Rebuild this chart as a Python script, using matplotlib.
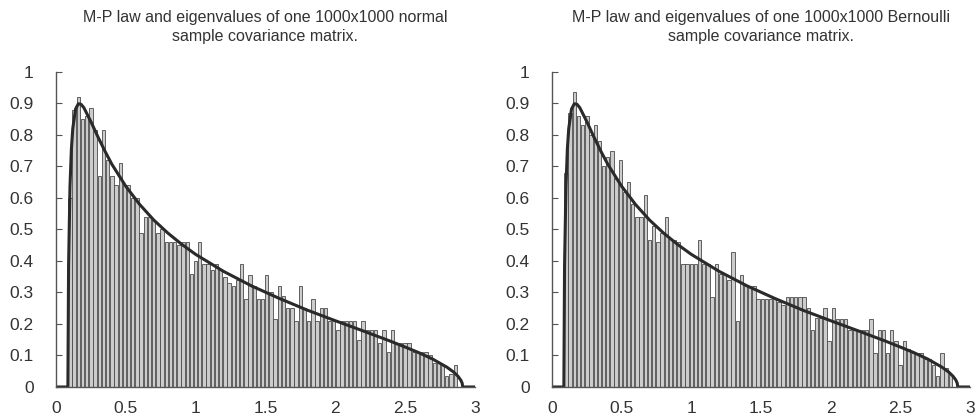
import numpy as np
import matplotlib.pyplot as plt

# histogram bins (left edges), same for both panels
bin_start = 0.085
bin_width = 0.03
n_bins = 94

normal_heights = [0.60, 0.88, 0.92, 0.85, 0.86, 0.885, 0.815, 0.67, 0.815, 0.72,
                  0.67, 0.64, 0.71, 0.64, 0.64, 0.60, 0.60, 0.49, 0.54, 0.54,
                  0.53, 0.49, 0.50, 0.46, 0.46, 0.46, 0.45, 0.46, 0.46, 0.36,
                  0.40, 0.46, 0.39, 0.39, 0.37, 0.39, 0.37, 0.35, 0.33, 0.32,
                  0.34, 0.39, 0.28, 0.355, 0.32, 0.28, 0.28, 0.355, 0.30, 0.215,
                  0.32, 0.29, 0.25, 0.25, 0.21, 0.32, 0.25, 0.21, 0.28, 0.21,
                  0.25, 0.25, 0.21, 0.21, 0.18, 0.21, 0.21, 0.21, 0.21, 0.15,
                  0.21, 0.18, 0.18, 0.18, 0.14, 0.18, 0.11, 0.18, 0.14, 0.14,
                  0.14, 0.14, 0.11, 0.11, 0.11, 0.11, 0.10, 0.075, 0.075, 0.07,
                  0.035, 0.04, 0.07, 0.0]

bernoulli_heights = [0.68, 0.87, 0.935, 0.86, 0.83, 0.86, 0.80, 0.83, 0.78, 0.70,
                     0.73, 0.75, 0.66, 0.72, 0.62, 0.65, 0.58, 0.54, 0.54, 0.61,
                     0.465, 0.51, 0.46, 0.49, 0.54, 0.47, 0.465, 0.46, 0.39, 0.39,
                     0.39, 0.39, 0.465, 0.39, 0.39, 0.285, 0.39, 0.36, 0.36, 0.34,
                     0.43, 0.21, 0.355, 0.32, 0.32, 0.32, 0.28, 0.28, 0.28, 0.28,
                     0.28, 0.27, 0.26, 0.285, 0.285, 0.285, 0.285, 0.285, 0.25, 0.18,
                     0.22, 0.22, 0.25, 0.145, 0.25, 0.215, 0.215, 0.215, 0.18, 0.18,
                     0.18, 0.18, 0.18, 0.215, 0.107, 0.18, 0.18, 0.107, 0.18, 0.145,
                     0.07, 0.145, 0.12, 0.107, 0.107, 0.107, 0.09, 0.09, 0.07, 0.035,
                     0.107, 0.06, 0.04, 0.0]

# M-P law curve
mp_x = [0, 0.085, 0.09, 0.10, 0.11, 0.12, 0.14, 0.16, 0.18, 0.20, 0.25, 0.30, 0.35,
        0.40, 0.50, 0.60, 0.70, 0.80, 0.90, 1.00, 1.20, 1.40, 1.60, 1.80, 2.00,
        2.20, 2.40, 2.50, 2.60, 2.70, 2.80, 2.85, 2.88, 2.90, 2.91, 2.914, 3.0]
mp_y = [0, 0, 0.385, 0.636, 0.754, 0.820, 0.882, 0.899, 0.897, 0.886, 0.842, 0.794,
        0.749, 0.707, 0.637, 0.579, 0.530, 0.489, 0.453, 0.421, 0.367, 0.321, 0.281,
        0.244, 0.2105, 0.178, 0.1447, 0.127, 0.1088, 0.0882, 0.063, 0.047, 0.034,
        0.022, 0.012, 0, 0]

titles = ["M-P law and eigenvalues of one 1000x1000 normal\nsample covariance matrix.",
          "M-P law and eigenvalues of one 1000x1000 Bernoulli\nsample covariance matrix."]

plt.rcParams['font.family'] = ['Liberation Sans', 'DejaVu Sans']

fig = plt.figure(figsize=(9.76, 4.19), dpi=100)
axes = [fig.add_axes([0.0574, 0.0764, 0.429, 0.752]),
        fig.add_axes([0.5656, 0.0764, 0.428, 0.752])]

edges = bin_start + bin_width * np.arange(n_bins)
for ax, h, t in zip(axes, [normal_heights, bernoulli_heights], titles):
    ax.bar(edges + bin_width * 0.1, h, width=bin_width * 0.8, align='edge',
           color='#cccccc', edgecolor='#4a4a4a', linewidth=0.6)
    ax.plot(mp_x, mp_y, color='#2a2a2a', lw=2.2)
    ax.set_xlim(0, 3)
    ax.set_ylim(0, 1)
    ax.set_xticks(np.arange(0, 3.01, 0.5))
    ax.set_xticklabels(['0', '0.5', '1', '1.5', '2', '2.5', '3'])
    ax.set_yticks(np.arange(0, 1.01, 0.1))
    ax.set_yticklabels(['0', '0.1', '0.2', '0.3', '0.4', '0.5', '0.6', '0.7', '0.8', '0.9', '1'])
    ax.tick_params(axis='y', direction='in', length=4, color='#555555',
                   labelsize=12.5, labelcolor='#333333', pad=16)
    ax.tick_params(axis='x', length=0, labelsize=12.5, labelcolor='#333333', pad=10)
    for s in ['top', 'right']:
        ax.spines[s].set_visible(False)
    for s in ['left', 'bottom']:
        ax.spines[s].set_color('#555555')
        ax.spines[s].set_linewidth(1)
    ax.set_title(t, fontsize=11.5, color='#333333', pad=22, linespacing=1.4)

fig.savefig('out.png', dpi=100)
